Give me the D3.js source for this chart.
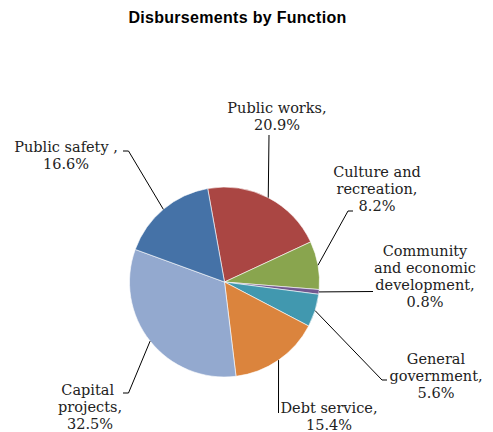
<!DOCTYPE html>
<html>
<head>
<meta charset="utf-8">
<script src="https://cdn.jsdelivr.net/npm/d3@7"></script>
<style>
  body { margin: 0; background: #fff; }
  svg { display: block; }
  .title { font-family: "Liberation Sans", Arial, sans-serif; font-weight: bold; font-size: 16px; letter-spacing: 0.3px; }
  .lbl { font-family: "DejaVu Serif", serif; font-size: 14.5px; fill: #222; }
</style>
</head>
<body>
<div id="chart"></div>
<script>
const categories = ["Public works", "Culture and recreation", "Community and economic development",
    "General government", "Debt service", "Capital projects", "Public safety"];
const values = [20.9, 8.2, 0.8, 5.6, 15.4, 32.5, 16.6];
const labelLines = [
    ["Public works,", "20.9%"],
    ["Culture and", "recreation,", "8.2%"],
    ["Community", "and economic", "development,", "0.8%"],
    ["General", "government,", "5.6%"],
    ["Debt service,", "15.4%"],
    ["Capital ", "projects,", "32.5%"],
    ["Public safety ,", "16.6%"]
];
const colors = ["#AA4643", "#89A54E", "#71588F", "#4198AF", "#DB843D", "#93A9CF", "#4572A7"];

// label placement: text centre x, first baseline y, leader bend points
const layout = [
    {x: 277, y: 113, pts: [[269, 135]]},
    {x: 377, y: 177, pts: [[348, 211], [353, 211]]},
    {x: 425, y: 256, pts: [[373, 291.5]]},
    {x: 436, y: 364, pts: [[382, 380], [387, 380]]},
    {x: 329, y: 413, pts: [[278.5, 413]]},
    {x: 90, y: 395, pts: [[128.5, 393], [123, 393]]},
    {x: 66, y: 152, pts: [[128.5, 151], [123, 151]]}
];

const width = 493, height = 432;
const cx = 224.5, cy = 282, radius = 95;
const lineH = 17;

const svg = d3.select("#chart").append("svg")
    .attr("width", width)
    .attr("height", height);

svg.append("text")
    .attr("class", "title")
    .attr("x", 237.5)
    .attr("y", 23)
    .attr("text-anchor", "middle")
    .text("Disbursements by Function");

const startAngle = -10.2 * Math.PI / 180;
const pie = d3.pie()
    .sort(null)
    .startAngle(startAngle)
    .endAngle(startAngle + 2 * Math.PI);
const arcs = pie(values);
const arc = d3.arc().innerRadius(0).outerRadius(radius);

const g = svg.append("g").attr("transform", "translate(" + cx + "," + cy + ")");

g.selectAll("path")
    .data(arcs)
    .enter()
    .append("path")
    .attr("d", arc)
    .attr("fill", (d, i) => colors[i])
    .attr("stroke", "#fff")
    .attr("stroke-width", 0.6);

// leader lines from the outer edge at each slice's mid angle
arcs.forEach((d, i) => {
    const a = (d.startAngle + d.endAngle) / 2;
    const p0 = [cx + radius * Math.sin(a), cy - radius * Math.cos(a)];
    const pts = [p0].concat(layout[i].pts);
    svg.append("path")
        .attr("d", d3.line()(pts))
        .attr("fill", "none")
        .attr("stroke", "#000")
        .attr("stroke-width", 1);
});

labelLines.forEach((lines, i) => {
    const t = svg.append("text")
        .attr("class", "lbl")
        .attr("text-anchor", "middle");
    lines.forEach((s, j) => {
        t.append("tspan")
            .attr("x", layout[i].x)
            .attr("y", layout[i].y + j * lineH)
            .attr("xml:space", "preserve")
            .text(s);
    });
});
</script>
</body>
</html>
